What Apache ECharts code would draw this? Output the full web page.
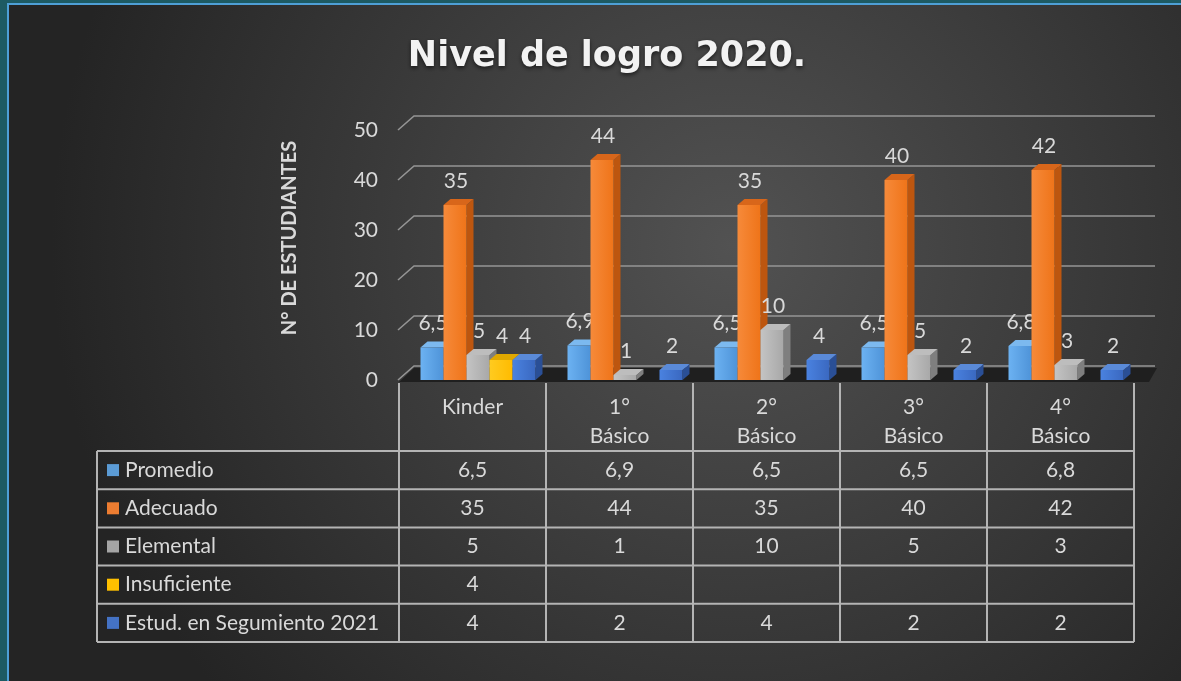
<!DOCTYPE html>
<html>
<head>
<meta charset="utf-8">
<script src="https://cdn.jsdelivr.net/npm/echarts@6/dist/echarts.min.js"></script>
<style>
  html, body { margin: 0; padding: 0; background: #1d5a63; }
  #myChart { position: absolute; left: 0; top: 0; width: 1181px; height: 681px; }
  .edge { position: absolute; z-index: 5; }
</style>
</head>
<body>
<div id="myChart"></div>
<div class="edge" style="left:0;top:0;width:1181px;height:3px;background:#1d5a63"></div>
<div class="edge" style="left:0;top:0;width:7px;height:681px;background:#1d5a63"></div>
<div class="edge" style="left:7px;top:3px;width:1174px;height:2px;background:#4e9fd6"></div>
<div class="edge" style="left:7px;top:3px;width:2px;height:678px;background:#4e9fd6"></div>
<script>
var myChart = echarts.init(document.getElementById('myChart'));

// datos
var categorias = ['Kinder', '1° Básico', '2° Básico', '3° Básico', '4° Básico'];
var nombres = ['Promedio', 'Adecuado', 'Elemental', 'Insuficiente', 'Estud. en Segumiento 2021'];
var promedio = [6.5, 6.9, 6.5, 6.5, 6.8];
var adecuado = [35, 44, 35, 40, 42];
var elemental = [5, 1, 10, 5, 3];
var insuficiente = [4, null, null, null, null];
var seguimiento = [4, 2, 4, 2, 2];
var yTicks = [0, 10, 20, 30, 40, 50];

var valores = [promedio, adecuado, elemental, insuficiente, seguimiento];
// colores: [frente claro, frente oscuro, lado, tapa, leyenda]
var colores = [
    ['#6cb2f2', '#4e93d8', '#3a76b4', '#7cb9ef', '#5b9bd5'],
    ['#f68a3a', '#ef7419', '#bd560f', '#d8661a', '#ed7d31'],
    ['#c4c4c4', '#a8a8a8', '#7f7f7f', '#bdbdbd', '#a5a5a5'],
    ['#ffcb20', '#ffbb00', '#c49200', '#e0a800', '#ffc000'],
    ['#4a82e0', '#3a68c0', '#2a4f96', '#5a8ad8', '#4472c4']
];

var FONT = 'Lato';
var TXT = '#d9d9d9';
var FS = 21;
var gridLeft = 399, gridRight = 47, gridTop = 130, gridBottom = 301;
var colW = (1181 - gridLeft - gridRight) / categorias.length;
var barW = 23, dx = 7, dy = -6;
var backDx = 15, backDy = -14, gridEnd = 1155;

function fmt(v) {
    return v === null ? '' : String(v).replace('.', ',');
}

function barSeries(idx) {
    var data = [];
    for (var i = 0; i < categorias.length; i++) {
        if (valores[idx][i] !== null) data.push([i, valores[idx][i]]);
    }
    var c = colores[idx];
    return {
        name: nombres[idx], type: 'custom', data: data, clip: false, z: 3,
        renderItem: function (params, api) {
            var top = api.coord([api.value(0), api.value(1)]);
            var base = api.coord([api.value(0), 0]);
            var x0 = top[0] - 52 + idx * barW;
            var yT = top[1], yB = base[1];
            return {
                type: 'group',
                children: [
                    {type: 'polygon', shape: {points: [[x0 + barW, yT], [x0 + barW + dx, yT + dy], [x0 + barW + dx, yB + dy], [x0 + barW, yB]]}, style: {fill: c[2]}},
                    {type: 'polygon', shape: {points: [[x0, yT], [x0 + barW, yT], [x0 + barW + dx, yT + dy], [x0 + dx, yT + dy]]}, style: {fill: c[3]}},
                    {type: 'rect', shape: {x: x0, y: yT, width: barW, height: yB - yT},
                        style: {fill: new echarts.graphic.LinearGradient(0, 0, 1, 0, [{offset: 0, color: c[0]}, {offset: 1, color: c[1]}])}},
                    {type: 'text', style: {text: fmt(api.value(1)), x: x0 + barW / 2 + 1, y: yT - 24, align: 'center', verticalAlign: 'middle',
                        fill: TXT, fontSize: FS, fontFamily: FONT}}
                ]
            };
        }
    };
}

var gridSeries = {
    type: 'custom', data: yTicks.map(function (v) { return [0, v]; }), clip: false, z: 1, silent: true,
    renderItem: function (params, api) {
        var p = api.coord([0, api.value(1)]);
        var y = p[1];
        var kids = [];
        if (api.value(1) === 0) {
            kids.push({type: 'polygon', shape: {points: [[gridLeft, y + 2], [gridEnd - 6, y + 2], [gridEnd + 2, y + backDy + 2], [gridLeft + backDx, y + backDy + 2]]},
                style: {fill: '#1f1f1f'}});
        }
        kids.push({type: 'polyline', shape: {points: [[gridLeft - 1, y], [gridLeft + backDx, y + backDy], [gridEnd, y + backDy]]},
            style: {stroke: '#959595', lineWidth: 1.6, fill: null}});
        return {type: 'group', children: kids};
    }
};

// tabla de datos
function buildTable() {
    var els = [];
    var lineStyle = {stroke: '#b4b4b4', lineWidth: 2};
    var tLeft = 97, rowTop = 451, rowH = 38.2, headTop = 383;
    var tRight = gridLeft + colW * categorias.length;
    var tBottom = rowTop + rowH * nombres.length;
    for (var r = 0; r <= nombres.length; r++) {
        var y = rowTop + r * rowH;
        els.push({type: 'line', shape: {x1: tLeft, y1: y, x2: tRight, y2: y}, style: lineStyle});
    }
    els.push({type: 'line', shape: {x1: tLeft, y1: rowTop, x2: tLeft, y2: tBottom}, style: lineStyle});
    for (var c = 0; c <= categorias.length; c++) {
        var x = gridLeft + c * colW;
        els.push({type: 'line', shape: {x1: x, y1: headTop, x2: x, y2: tBottom}, style: lineStyle});
    }
    for (var s = 0; s < nombres.length; s++) {
        var yc = rowTop + (s + 0.5) * rowH;
        els.push({type: 'rect', shape: {x: 107, y: yc - 6, width: 12, height: 12}, style: {fill: colores[s][4]}});
        els.push({type: 'text', style: {text: nombres[s], x: 125, y: yc, verticalAlign: 'middle', fill: TXT, fontSize: FS, fontFamily: FONT}});
        for (var i = 0; i < categorias.length; i++) {
            els.push({type: 'text', style: {text: fmt(valores[s][i]), x: gridLeft + (i + 0.5) * colW, y: yc,
                align: 'center', verticalAlign: 'middle', fill: TXT, fontSize: FS, fontFamily: FONT}});
        }
    }
    els.push({type: 'text', rotation: Math.PI / 2, x: 290, y: 238,
        style: {text: 'N° DE ESTUDIANTES', align: 'center', verticalAlign: 'middle', fill: TXT, fontSize: 20, fontWeight: 'bold', fontFamily: FONT}});
    return els;
}

var series = [gridSeries];
for (var k = 0; k < valores.length; k++) series.push(barSeries(k));

myChart.setOption({
    backgroundColor: {type: 'radial', x: 0.62, y: 0.36, r: 1.0, colorStops: [{offset: 0, color: '#525252'}, {offset: 1, color: '#242424'}]},
    animation: false,
    title: {text: 'Nivel de logro 2020.', left: 602, top: 34, textAlign: 'center',
        textStyle: {color: '#f2f2f2', fontSize: 35, fontWeight: 'bold', fontFamily: 'DejaVu Sans',
            textShadowColor: 'rgba(0,0,0,0.6)', textShadowBlur: 4, textShadowOffsetY: 2}},
    grid: {left: gridLeft, right: gridRight, top: gridTop, bottom: gridBottom},
    xAxis: {type: 'category', data: categorias, axisLine: {show: false}, axisTick: {show: false},
        axisLabel: {color: TXT, fontSize: FS, fontFamily: FONT, margin: 13, lineHeight: 29, verticalAlign: 'top',
            formatter: function (v) { return v.replace(' ', '\n'); }}},
    yAxis: {type: 'value', min: 0, max: 50, interval: 10, axisLine: {show: false}, axisTick: {show: false}, splitLine: {show: false},
        axisLabel: {color: TXT, fontSize: FS, fontFamily: FONT, margin: 21}},
    graphic: buildTable(),
    series: series
});
</script>
</body>
</html>
